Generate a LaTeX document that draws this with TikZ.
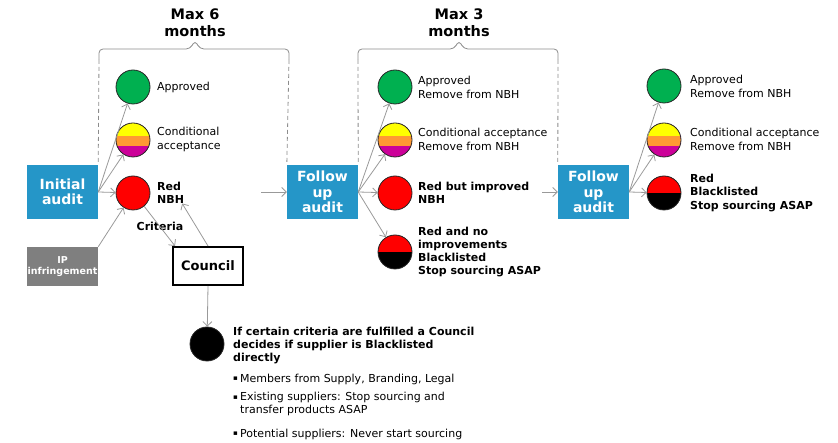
\documentclass[tikz,border=0pt]{standalone}
\usepackage{fontspec}
\setmainfont{DejaVu Sans}
\usetikzlibrary{arrows.meta}

\definecolor{auditblue}{HTML}{2596C8}
\definecolor{ipgray}{HTML}{7F7F7F}
\definecolor{okgreen}{HTML}{00B050}
\definecolor{condyellow}{HTML}{FFFF00}
\definecolor{condorange}{HTML}{FF9933}
\definecolor{condmagenta}{HTML}{CC0099}
\definecolor{linkgray}{HTML}{999999}
\definecolor{framegray}{HTML}{8C8C8C}

\begin{document}
\begin{tikzpicture}[x=1pt, y=-1pt,
  title/.style={align=center, inner sep=0pt, font=\fontsize{14.5}{17}\selectfont\bfseries},
  audit/.style={rectangle, fill=auditblue, text=white, align=center, inner sep=0pt,
    minimum width=71pt, minimum height=54pt, font=\fontsize{14}{15.5}\selectfont\bfseries},
  ipbox/.style={rectangle, fill=ipgray, text=white, align=center, inner sep=0pt,
    minimum width=71pt, minimum height=39pt, font=\fontsize{9.5}{11.5}\selectfont\bfseries},
  councilbox/.style={rectangle, draw=black, line width=2pt, fill=white, inner sep=0pt,
    minimum width=70pt, minimum height=38pt, font=\fontsize{13}{15}\selectfont\bfseries},
  status/.style={circle, draw=black!85, line width=0.8pt, minimum size=34pt, inner sep=0pt},
  good/.style={status, fill=okgreen},
  redc/.style={status, fill=red},
  blackc/.style={status, fill=black},
  cond/.style={status, fill=condmagenta, path picture={
    \fill[condyellow] ([yshift=4pt]path picture bounding box.west) rectangle (path picture bounding box.north east);
    \fill[condorange] ([yshift=-6pt]path picture bounding box.west) rectangle ([yshift=4pt]path picture bounding box.east);}},
  redblack/.style={status, fill=black, path picture={
    \fill[red] (path picture bounding box.west) rectangle (path picture bounding box.north east);}},
  lbl/.style={anchor=west, align=left, inner sep=0pt, font=\fontsize{11}{14}\selectfont},
  lblb/.style={anchor=west, align=left, inner sep=0pt, font=\fontsize{11}{13.3}\selectfont\bfseries},
  bul/.style={anchor=west, inner sep=0pt, font=\fontsize{7}{9}\selectfont},
  link/.style={draw=linkgray, line width=0.8pt, -{Straight Barb[length=4.5pt,width=9pt]}},
  frametop/.style={draw=framegray, line width=0.8pt, rounded corners=4pt},
  frameside/.style={draw=framegray, line width=0.8pt, dash pattern=on 4pt off 3pt}
]
\useasboundingbox (0,0) rectangle (838,443);

% period headings
\node[title] (ttlA) at (195,22.5) {Max 6\\months};
\node[title] (ttlB) at (459,22.5) {Max 3\\months};

% audits and triggers
\node[audit] (init) at (62.5,192) {Initial\\audit};
\node[ipbox] (ip) at (62.5,266.5) {IP\\infringement};
\node[audit] (fu1) at (322.5,192) {Follow\\up\\audit};
\node[audit] (fu2) at (593.5,192) {Follow\\up\\audit};
\node[councilbox] (council) at (208,266) {Council};

% outcomes of the initial audit
\node[good] (a1) at (133,87) {};
\node[cond] (a2) at (133,140) {};
\node[redc] (a3) at (133,193) {};
\node[lbl]  (la1) at (157,87) {Approved};
\node[lbl]  (la2) at (157,139) {Conditional\\acceptance};
\node[lblb] (la3) at (157,192.5) {Red\\NBH};
\node[lblb, anchor=center] (crit) at (160,226) {Criteria};

% outcomes of the first follow-up
\node[good] (b1) at (395,87) {};
\node[cond] (b2) at (395,140) {};
\node[redc] (b3) at (395,193) {};
\node[redblack] (b4) at (395,252) {};
\node[lbl]  (lb1) at (418,87) {Approved\\Remove from NBH};
\node[lbl]  (lb2) at (418,139) {Conditional acceptance\\Remove from NBH};
\node[lblb] (lb3) at (418,192.5) {Red but improved\\NBH};
\node[lblb] (lb4) at (418,252) {Red and no\\improvements\\Blacklisted\\Stop sourcing ASAP};

% outcomes of the second follow-up
\node[good] (c1) at (664,86) {};
\node[cond] (c2) at (664,140) {};
\node[redblack] (c3) at (664,193) {};
\node[lbl]  (lc1) at (690,86) {Approved\\Remove from NBH};
\node[lbl]  (lc2) at (690,139) {Conditional acceptance\\Remove from NBH};
\node[lblb] (lc3) at (690,193) {Red\\Blacklisted\\Stop sourcing ASAP};

% council decision
\node[blackc] (blk) at (207,344) {};
\node[anchor=north west, align=left, inner sep=0pt, font=\fontsize{11}{13}\selectfont\bfseries]
  (desc) at (233,326.5) {If certain criteria are fulfilled a Council\\decides if supplier is Blacklisted\\directly};
\node[bul] (bu1) at (233,379) {▪};
\node[lbl] (it1) at (240,379) {Members from Supply, Branding, Legal};
\node[bul] (bu2) at (233,398) {▪};
\node[lbl, font=\fontsize{11}{13}\selectfont, anchor=north west] (it2) at (240,391.5) {Existing suppliers: Stop sourcing and\\transfer products ASAP};
\node[bul] (bu3) at (233,434) {▪};
\node[lbl] (it3) at (240,434) {Potential suppliers: Never start sourcing};

% time frames
\draw[frametop] (99,60) -- (99,49) -- (190,49) -- (195,40.5) -- (200,49) -- (289,49) -- (289,60);
\draw[frameside] (99,60) -- (init.north east);
\draw[frameside] (289,60) -- (fu1.north west);
\draw[frametop] (358,60) -- (358,49) -- (454,49) -- (459,40.5) -- (464,49) -- (558,49) -- (558,60);
\draw[frameside] (358,60) -- (fu1.north east);
\draw[frameside] (558,60) -- (fu2.north west);

% connectors
\coordinate (inA) at (261,192);
\coordinate (inB) at (542,192);
\draw[link] (init.east) -- (a1);
\draw[link] (init.east) -- (a2);
\draw[link] (init.east) -- (a3);
\draw[link] (ip.north east) -- (a3);
\draw[link] (a3.-50) -- ([xshift=3pt]council.north west);
\draw[link] (council.north) -- ([xshift=-2pt]la3.south east);
\draw[link] (council.south) -- (blk);
\draw[link] (inA) -- (fu1.west);
\draw[link] (fu1.east) -- (b1);
\draw[link] (fu1.east) -- (b2);
\draw[link] (fu1.east) -- (b3);
\draw[link] (fu1.east) -- (b4);
\draw[link] (inB) -- (fu2.west);
\draw[link] (fu2.east) -- (c1);
\draw[link] (fu2.east) -- (c2);
\draw[link] (fu2.east) -- (c3);
\end{tikzpicture}
\end{document}
